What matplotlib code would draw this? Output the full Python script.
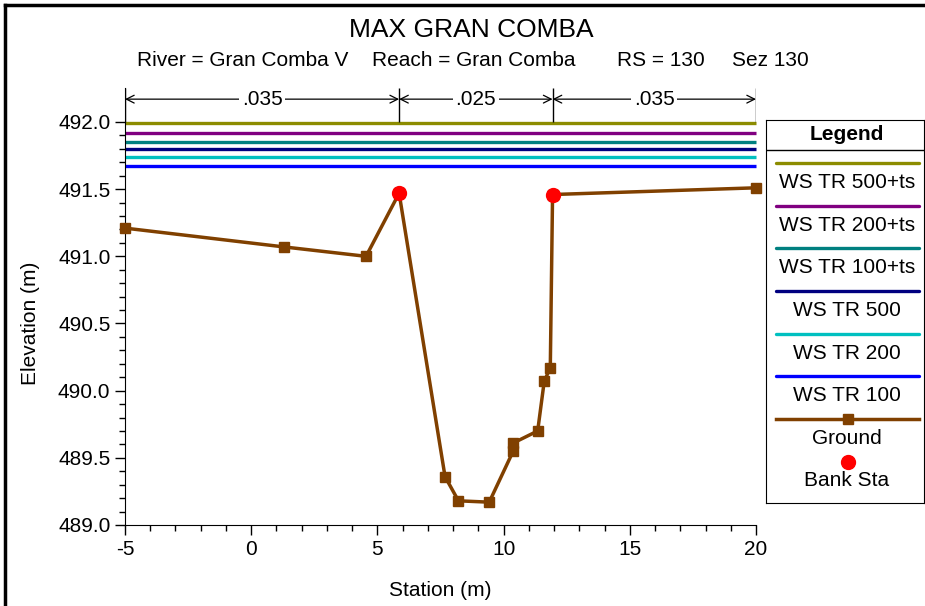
import matplotlib
matplotlib.use('Agg')
import numpy as np
import matplotlib.pyplot as plt
from matplotlib.lines import Line2D
from matplotlib.ticker import FixedLocator, FormatStrFormatter

plt.rcParams['font.family'] = ['Liberation Sans', 'DejaVu Sans']
plt.rcParams['axes.unicode_minus'] = False

# ground profile (station, elevation)
station = [-5, 1.30, 4.55, 5.86, 7.68, 8.21, 9.43, 10.38, 10.38, 11.35, 11.61, 11.85, 11.94, 20]
elevation = [491.21, 491.07, 491.00, 491.47, 489.36, 489.18, 489.17, 489.55, 489.61,
             489.70, 490.07, 490.17, 491.46, 491.51]

# bank stations
bank_sta = [5.86, 11.94]
bank_elev = [491.47, 491.46]

# water surfaces
ws_names = ['WS TR 500+ts', 'WS TR 200+ts', 'WS TR 100+ts', 'WS TR 500', 'WS TR 200', 'WS TR 100']
ws_elev = [491.99, 491.92, 491.85, 491.80, 491.74, 491.67]
ws_colors = ['#8c8c00', '#800080', '#008080', '#000080', '#00c0c0', '#0000ff']

# manning n breaks
n_values = ['.035', '.025', '.035']
n_breaks = [-5, 5.86, 11.94, 20]

ground_col = '#804000'
W, H = 925, 606
fs = 15

fig = plt.figure(figsize=(W / 100, H / 100), dpi=100)
ax = fig.add_axes([125 / W, 1 - 525 / H, (756 - 125) / W, (525 - 88) / H])

for name, e, c in zip(ws_names, ws_elev, ws_colors):
    ax.plot([station[0], station[-1]], [e, e], color=c, lw=2.4, solid_capstyle='butt', clip_on=False)

ax.plot(station, elevation, color=ground_col, lw=2.5, marker='s', ms=6.5, clip_on=False, zorder=3)
ax.plot(bank_sta, bank_elev, 'o', color='red', ms=10, ls='none', zorder=4)

ax.set_xlim(-5, 20)
ax.set_ylim(489.0, 492.253)
ax.spines['top'].set_visible(False)
ax.spines['right'].set_visible(False)

ax.set_xticks(range(-5, 21, 5))
ax.xaxis.set_minor_locator(FixedLocator(range(-5, 21)))
ax.set_yticks(np.arange(489.0, 492.01, 0.5))
ax.yaxis.set_minor_locator(FixedLocator(np.arange(489.0, 492.01, 0.1)))
ax.yaxis.set_major_formatter(FormatStrFormatter('%.1f'))
ax.tick_params(which='major', direction='out', length=7, width=1, labelsize=fs)
ax.tick_params(which='minor', direction='out', length=4, width=1)

# n-value arrows
y_arr = 492.17
ax.vlines(n_breaks, 492.0, 492.253, color='black', lw=1)
for i, n in enumerate(n_values):
    x0, x1 = n_breaks[i], n_breaks[i + 1]
    ax.annotate('', xy=(x0, y_arr), xytext=(x1, y_arr),
                arrowprops=dict(arrowstyle='<->', lw=0.9, color='black',
                                shrinkA=0, shrinkB=0, mutation_scale=14))
    ax.text((x0 + x1) / 2, y_arr, n, ha='center', va='center', fontsize=fs, zorder=5,
            bbox=dict(fc='white', ec='none', pad=2))

# titles and labels
fig.text(471 / W, 1 - 30 / H, 'MAX GRAN COMBA', fontsize=19, ha='center', va='center')
for x, s in [(137, 'River = Gran Comba V'), (372, 'Reach = Gran Comba'),
             (617, 'RS = 130'), (732, 'Sez 130')]:
    fig.text(x / W, 1 - 60 / H, s, fontsize=fs, ha='left', va='center')
fig.text(30 / W, 1 - 323 / H, 'Elevation (m)', fontsize=fs, rotation=90, ha='center', va='center')
fig.text(440 / W, 1 - 590 / H, 'Station (m)', fontsize=fs, ha='center', va='center')

# window border
fig.add_artist(Line2D([5 / W, 5 / W], [0, 1 - 5 / H], color='black', lw=2.5, transform=fig.transFigure))
fig.add_artist(Line2D([5 / W, 1], [1 - 5 / H, 1 - 5 / H], color='black', lw=2.5, transform=fig.transFigure))

# legend box
lax = fig.add_axes([766 / W, 1 - 503 / H, (924 - 766) / W, (503 - 120) / H])
lax.set_xlim(766, 924)
lax.set_ylim(503, 120)
lax.set_xticks([])
lax.set_yticks([])
lax.text(847, 134, 'Legend', fontsize=fs, fontweight='bold', ha='center', va='center')
lax.axhline(150, color='black', lw=1)
line_y = [162.7, 206, 248.3, 291, 334, 376]
for y, name, c in zip(line_y, ws_names, ws_colors):
    lax.plot([776, 919], [y, y], color=c, lw=2.4, solid_capstyle='round')
    lax.text(847, y + 19.5, name, fontsize=fs, ha='center', va='center')
lax.plot([776, 919], [419, 419], color=ground_col, lw=2.5)
lax.plot([847.5], [419], 's', color=ground_col, ms=6.5)
lax.text(847, 438, 'Ground', fontsize=fs, ha='center', va='center')
lax.plot([847.5], [461.7], 'o', color='red', ms=10)
lax.text(847, 480, 'Bank Sta', fontsize=fs, ha='center', va='center')

fig.savefig('out.png', dpi=100)
